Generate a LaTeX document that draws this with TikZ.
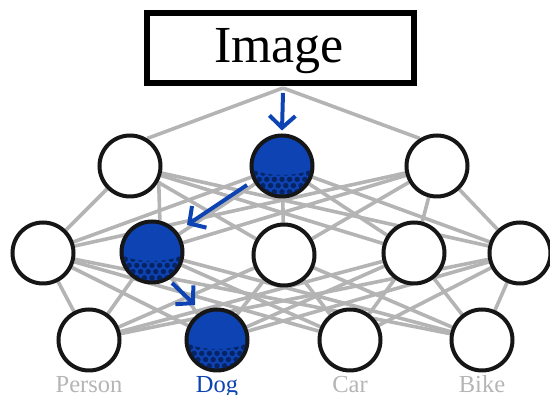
\documentclass[tikz,border=0pt]{standalone}
\usepackage{fontspec}
\setmainfont{Liberation Serif}
\usetikzlibrary{arrows.meta,calc,backgrounds}
\definecolor{netblue}{HTML}{0D43B3}
\definecolor{dotblue}{HTML}{062463}
\definecolor{edgegray}{HTML}{B4B4B4}
\definecolor{labelgray}{HTML}{B5B5B5}
\definecolor{ink}{HTML}{161616}

% dotted lower "bowl" inside an active unit
\newcommand\dotbowl[1]{%
  \begin{scope}
    \clip ($(#1)+(-31,0)$) arc[start angle=180,end angle=360,x radius=31,y radius=9]
          -- ++(0,-40) -- ++(-62,0) -- cycle;
    \clip (#1) circle (29);
    \foreach \i in {-5,...,5}
      \foreach \j in {0,...,5}
        \fill[dotblue] ($(#1)+({\i*7.6+mod(\j,2)*3.8},{-\j*6.2-1})$) circle (2.7);
  \end{scope}}

\begin{document}
\begin{tikzpicture}[x=1pt,y=1pt,
  unit/.style={circle, draw=ink, line width=4pt, minimum size=61pt, inner sep=0pt, fill=white},
  active/.style={unit, fill=netblue},
  link/.style={draw=edgegray, line width=3.6pt},
  flow/.style={draw=netblue, line width=4pt, -{Straight Barb[length=12pt,width=26pt]}},
  classlbl/.style={anchor=base, font=\fontsize{24.5}{28}\selectfont, text=labelgray},
  titlebox/.style={draw=black, line width=6pt, minimum width=267pt, minimum height=70pt, inner sep=0pt}
]
\useasboundingbox (0,0) rectangle (550,395);

% input box
\node[titlebox] (box) at (280,347) {};
\node[anchor=base, font=\fontsize{52}{62}\selectfont] (title) at (279,332) {Image};
\coordinate (hub) at (283,307);

% top layer
\node[unit]   (T1) at (130,229) {};
\node[active] (T2) at (282,229) {};
\node[unit]   (T3) at (437,229) {};
% middle layer
\node[unit]   (M1) at (43,142) {};
\node[active] (M2) at (152,143) {};
\node[unit]   (M3) at (284,140) {};
\node[unit]   (M4) at (414,142) {};
\node[unit]   (M5) at (520,142) {};
% output layer
\node[unit]   (B1) at (89,55) {};
\node[active] (B2) at (217,55) {};
\node[unit]   (B3) at (350,55) {};
\node[unit]   (B4) at (482,55) {};

\dotbowl{T2}
\dotbowl{M2}
\dotbowl{B2}

% class labels
\node[classlbl] (lp) at (89,2) {Person};
\node[classlbl, text=netblue] (ld) at (217,2) {Dog};
\node[classlbl] (lc) at (350,2) {Car};
\node[classlbl] (lb) at (482,2) {Bike};

% connections behind the units
\begin{pgfonlayer}{background}
  \draw[link] (hub) -- (T1.58);
  \draw[link] (hub) -- (T3.122);
  \foreach \t/\m in {T1/M1,T1/M3,T1/M4,T1/M5,
                     T2/M1,T2/M2,T2/M3,T2/M4,T2/M5,
                     T3/M1,T3/M2,T3/M3,T3/M4,T3/M5}
    \draw[link] (\t) -- (\m);
  \draw[link] (T1.-28) -- (M2.76);
  \foreach \m in {M1,M2,M3,M4,M5}
    \foreach \b in {B1,B2,B3,B4}
      \draw[link] (\m) -- (\b);
\end{pgfonlayer}

% active path
\coordinate (a1) at (283,302);
\coordinate (a1e) at ($(T2.north)+(0,3)$);
\coordinate (a2) at ($(T2)+(-35,-19)$);
\coordinate (a2e) at ($(M2)+(35,27)$);
\coordinate (a3) at ($(M2)+(20,-31)$);
\coordinate (a3e) at ($(B2)+(-22,35)$);
\draw[flow] (a1) -- (a1e);
\draw[flow] (a2) -- (a2e);
\draw[flow] (a3) -- (a3e);
\end{tikzpicture}
\end{document}
